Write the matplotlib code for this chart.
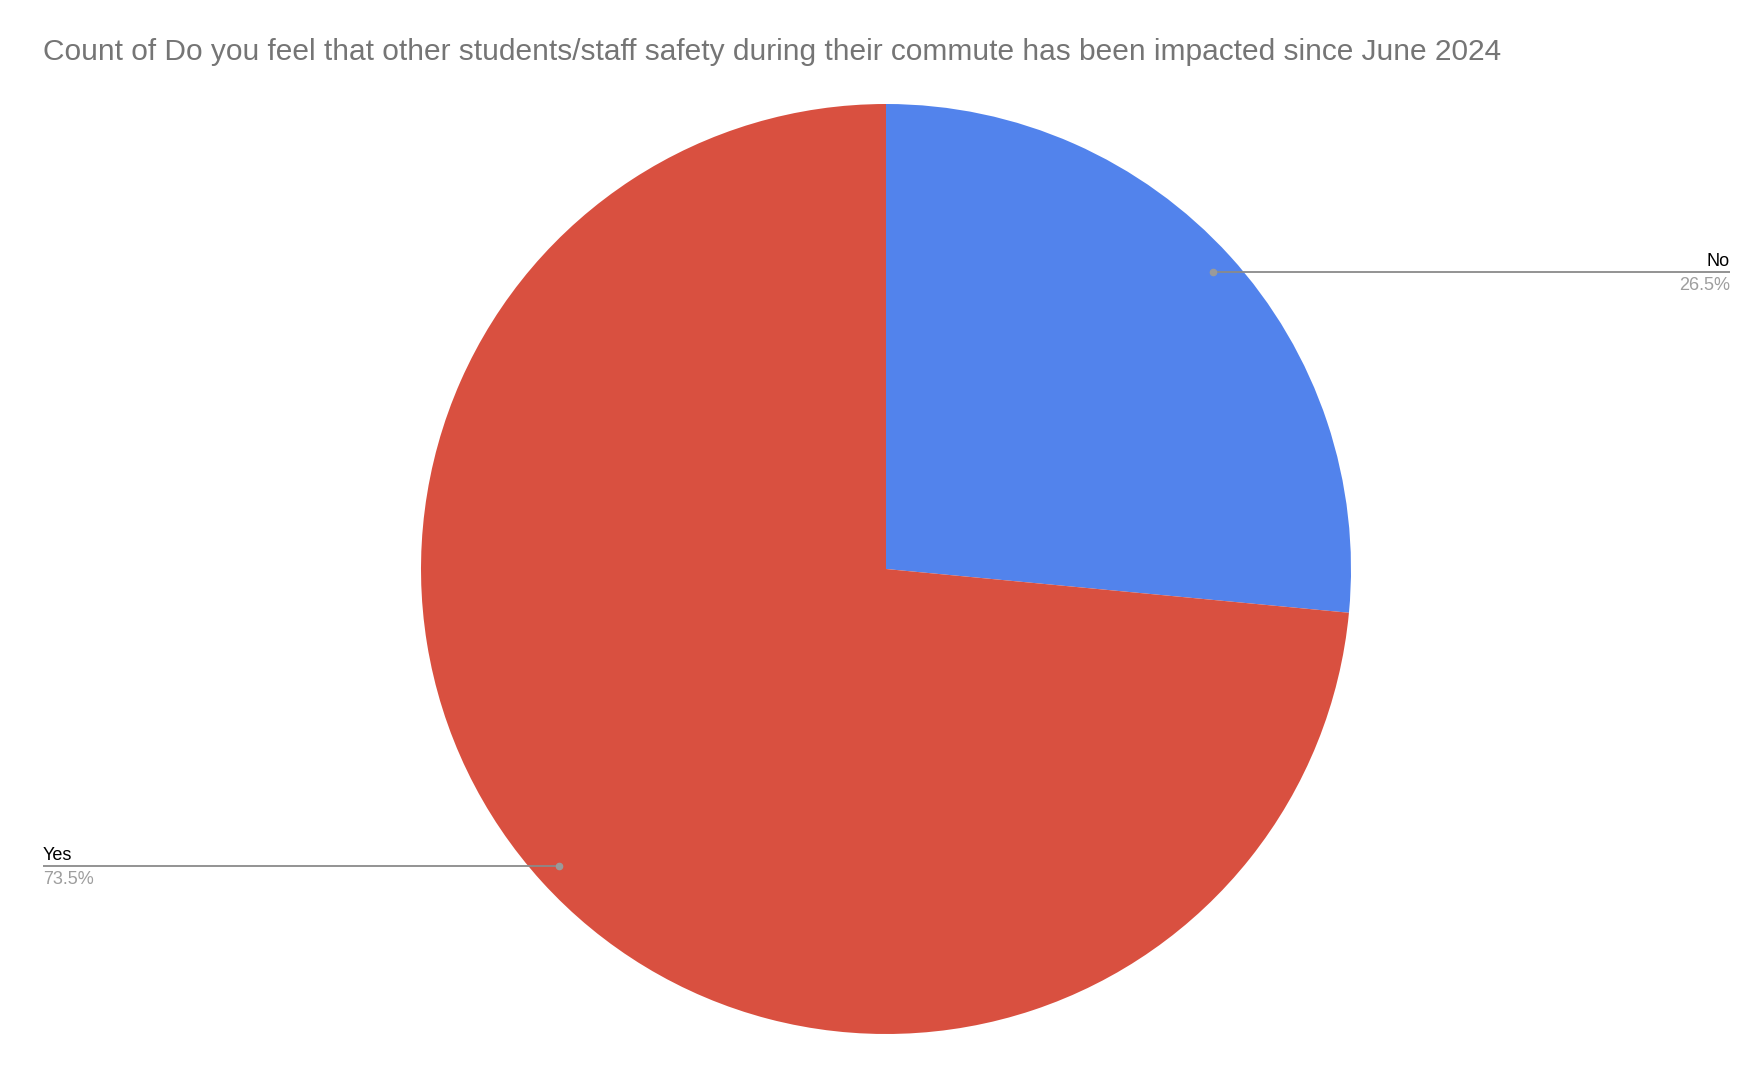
import numpy as np
import matplotlib
matplotlib.use("Agg")
import matplotlib.pyplot as plt

title = "Count of Do you feel that other students/staff safety during their commute has been impacted since June 2024"
labels = ["No", "Yes"]
shares = [26.5, 73.5]
colors = ["#5283ec", "#d95040"]

W, H = 1758, 1076
fig = plt.figure(figsize=(W / 100, H / 100), dpi=100)
ax = fig.add_axes([0, 0, 1, 1])
ax.set_xlim(0, W)
ax.set_ylim(0, H)
ax.set_aspect("equal")
ax.axis("off")

cx, cy, R = 886, H - 569, 465
wedges, _ = ax.pie(shares, colors=colors, startangle=90, counterclock=False,
                   center=(cx, cy), radius=R, frame=True,
                   wedgeprops=dict(linewidth=0))
ax.set_xlim(0, W)
ax.set_ylim(0, H)
ax.axis("off")

font = ["Liberation Sans", "DejaVu Sans"]
fig.text(43 / W, 1 - 52 / H, title, fontsize=21.5, color="#757575",
         family=font, ha="left", va="center")

right_x, left_x = 1730, 43
for w, lab, s in zip(wedges, labels, shares):
    mid = np.deg2rad((w.theta1 + w.theta2) / 2)
    dx, dy = cx + 0.95 * R * np.cos(mid), cy + 0.95 * R * np.sin(mid)
    if np.cos(mid) >= 0:
        ex, ha = right_x, "right"
    else:
        ex, ha = left_x, "left"
    ax.plot([dx, ex], [dy, dy], color="#8a8a8a", lw=1.3, solid_capstyle="butt", zorder=3)
    ax.plot([dx], [dy], "o", color="#9a9a9a", ms=4.5, zorder=4)
    ax.text(ex, dy + 2, lab, ha=ha, va="bottom", fontsize=13, color="#000000", family=font)
    ax.text(ex, dy - 5, f"{s:.1f}%", ha=ha, va="top", fontsize=13, color="#9e9e9e", family=font)

fig.savefig("out.png", dpi=100, facecolor="white")
